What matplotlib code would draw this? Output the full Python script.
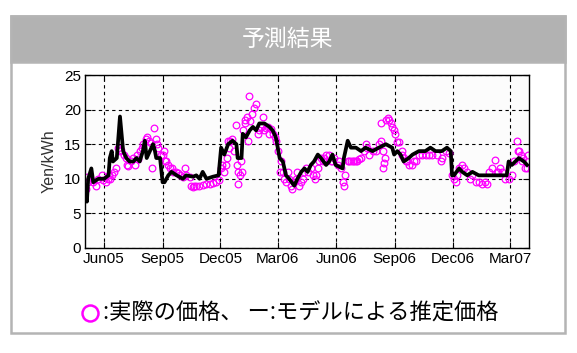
import numpy as np
import matplotlib
matplotlib.use("Agg")
import matplotlib.pyplot as plt
from matplotlib.patches import Rectangle
from matplotlib.lines import Line2D

plt.rcParams['font.family'] = ['Liberation Sans', 'DejaVu Sans']
JP = ['Noto Sans CJK JP', 'DejaVu Sans']

start = np.datetime64('2005-05-02')

# model estimate (days since 2005-05-02, Yen/kWh)
model_days = [0, 3, 5, 10, 13, 21, 30, 37, 39, 42, 44, 50, 55, 60, 65, 70, 76, 81, 86,
              91, 94, 97, 102, 107, 110, 112, 118, 122, 125, 131, 136, 144, 154, 159,
              170, 175, 180, 185, 191, 201, 210, 214, 219, 225, 232, 238, 240, 246,
              248, 253, 259, 264, 269, 274, 282, 290, 295, 300, 306, 311, 316, 321,
              329, 334, 340, 345, 350, 355, 360, 366, 371, 379, 384, 389, 394, 405,
              407, 413, 418, 426, 434, 441, 452, 462, 473, 483, 486, 491, 496, 501,
              509, 515, 525, 535, 543, 551, 561, 569, 575, 577, 580, 588, 593, 601,
              609, 619, 630, 645, 663, 666, 671, 682, 690, 695]
model_vals = [8.5, 6.7, 10, 11.5, 9.5, 10, 10, 10.5, 13, 14, 12.5, 13, 19, 14, 13, 12.5,
              12.5, 13, 12.5, 14, 15.5, 13, 14, 15, 14, 13, 13, 9.5, 9.5, 10.5, 11,
              10.5, 10, 10.5, 10.3, 10.5, 10, 11, 10, 10.3, 10.5, 14.5, 13.5, 15, 15.5,
              15, 13, 13, 16.5, 16, 17, 17.5, 17, 18, 18, 17.5, 17, 16, 13, 12.5, 10.5,
              10, 9, 10, 11, 11.5, 11, 12, 12.5, 13.5, 13, 12, 12.5, 13.5, 12, 11.5,
              13, 15.5, 14.5, 14.5, 14, 14.5, 14, 14.5, 15, 14.5, 13.5, 14, 13.5, 12.5,
              13, 13.5, 14, 14, 14.5, 14, 14, 14.5, 14, 10.5, 10.5, 11.5, 11, 10.5,
              11, 10.5, 10.5, 10.5, 10.5, 12.5, 12, 13, 12.5, 12]

# actual prices
actual_days = [1, 3, 5, 13, 17, 21, 26, 29, 33, 36, 38, 40, 43, 46, 49, 52, 55, 57, 61,
               64, 66, 68, 72, 75, 78, 81, 84, 86, 89, 91, 96, 98, 101, 103, 105, 109,
               111, 113, 115, 119, 123, 124, 126, 128, 131, 133, 136, 139, 143, 146,
               150, 154, 157, 159, 165, 167, 170, 172, 175, 180, 185, 191, 196, 201,
               206, 211, 214, 216, 218, 221, 223, 225, 226, 228, 231, 235, 237, 239,
               240, 241, 243, 246, 247, 249, 251, 252, 254, 256, 258, 260, 262, 265,
               269, 272, 274, 277, 280, 282, 285, 287, 290, 293, 295, 298, 300, 303,
               306, 308, 311, 313, 316, 319, 321, 324, 326, 329, 332, 334, 337, 340,
               342, 345, 348, 350, 355, 358, 361, 363, 366, 368, 371, 374, 376, 379,
               384, 387, 389, 392, 397, 400, 402, 406, 407, 409, 413, 415, 418, 421,
               423, 426, 428, 431, 434, 439, 442, 444, 447, 452, 457, 462, 465, 465,
               468, 469, 470, 472, 473, 476, 478, 481, 483, 486, 488, 491, 494, 498,
               499, 502, 504, 507, 510, 514, 517, 520, 525, 530, 536, 541, 546, 554,
               559, 562, 567, 572, 577, 580, 583, 585, 588, 592, 596, 601, 606, 609,
               614, 619, 624, 629, 632, 635, 640, 645, 648, 650, 653, 656, 661, 666,
               671, 674, 679, 680, 683, 686, 687, 689, 692, 695, 697]
actual_vals = [8.5, 10.3, 9.5, 9.5, 9, 10, 10.5, 9.8, 9.5, 10, 10.5, 10, 10.5, 11, 11.5,
               14.5, 14, 14.2, 13.5, 13, 12, 11.8, 12.5, 13, 12, 13.5, 12.8, 14, 14.5,
               15, 15.8, 16, 15.5, 15.2, 11.5, 17.3, 15.8, 15, 14.5, 13.5, 13.5, 14,
               12.5, 12.5, 12, 11.5, 11.5, 11, 11, 10.8, 10.5, 10.3, 11.5, 10.5, 10.3,
               9, 8.8, 9, 9, 9, 9.1, 9.2, 9.3, 9.4, 9.5, 9.8, 11.5, 12, 11, 12, 13,
               15.5, 14.5, 15.5, 15.8, 14, 17.8, 12, 11, 9.3, 10.5, 12.5, 11, 17, 18,
               18.5, 19, 15.5, 22, 18.3, 19.3, 20.3, 20.8, 16.5, 17, 17.5, 19, 17, 17.3,
               17.5, 16.5, 17.2, 16.5, 16, 15.5, 14, 11, 12.5, 11, 10, 9.5, 11, 10, 9,
               8.5, 9.5, 10, 11, 9, 9.5, 10, 11, 11.5, 11, 11.5, 10.5, 10, 10.5, 11.5,
               12.5, 13, 12.5, 13, 13.5, 13.5, 12.5, 12.5, 13, 12, 12.5, 11.5, 9.5, 9,
               10.5, 12.5, 12.5, 12.5, 12.5, 12.5, 12.5, 12.5, 12.8, 13, 14, 15, 14.5,
               13.5, 14, 14, 15, 15.5, 18, 14, 11.5, 12.3, 13, 18.5, 18.8, 18.5, 18,
               17.5, 17, 16.5, 15.3, 15.3, 14, 13.5, 13, 12.5, 12.5, 12, 12, 12.5, 12.5,
               13.5, 13.5, 13.5, 13.5, 13.5, 13.5, 12.5, 13, 14, 13.8, 10.5, 10, 9.5,
               10.5, 11.5, 12, 11.5, 11, 10, 10.5, 9.5, 9.5, 9.3, 9.5, 9.3, 11, 11.5,
               12.7, 11, 11, 11.5, 11, 10, 10, 10.5, 12.5, 15.5, 14, 14, 13.5, 12.5,
               13, 11.5, 11.5, 13.5]

tick_dates = ['2005-06-01', '2005-09-01', '2005-12-01', '2006-03-01',
              '2006-06-01', '2006-09-01', '2006-12-01', '2007-03-01']
tick_labels = ['Jun05', 'Sep05', 'Dec05', 'Mar06', 'Jun06', 'Sep06', 'Dec06', 'Mar07']

model_x = start + np.array(model_days).astype('timedelta64[D]')
actual_x = start + np.array(actual_days).astype('timedelta64[D]')

fig = plt.figure(figsize=(5.77, 3.53), dpi=100)

# outer frame and title band
fig.add_artist(Rectangle((0.019, 0.0567), 0.96, 0.898, transform=fig.transFigure,
                         facecolor='white', edgecolor='#b4b4b4', lw=1.8, zorder=0))
fig.add_artist(Rectangle((0.019, 0.8244), 0.96, 0.1303, transform=fig.transFigure,
                         facecolor='#b2b2b2', edgecolor='#b4b4b4', lw=1.8, zorder=0))
fig.text(0.499, 0.888, '予測結果', color='white', fontsize=16.5, family=JP,
         ha='center', va='center')

ax = fig.add_axes([0.1473, 0.2975, 0.7695, 0.49])
ax.set_facecolor('#fcfcfc')
ax.plot(actual_x, actual_vals, 'o', mfc='none', mec='#ff00ff', ms=4.8, mew=0.9, zorder=2)
ax.plot(model_x, model_vals, color='black', lw=2.7, zorder=3)

ax.set_xlim(np.datetime64('2005-05-02'), np.datetime64('2007-03-31'))
ax.set_ylim(0, 25)
ax.set_yticks([0, 5, 10, 15, 20, 25])
ax.set_xticks([np.datetime64(d) for d in tick_dates])
ax.set_xticklabels(tick_labels)
ax.tick_params(direction='in', length=4, labelsize=11, top=True, right=True, pad=3)
ax.grid(True, color='black', linestyle=(0, (3, 3)), lw=0.8)
for s in ax.spines.values():
    s.set_linewidth(1.0)
ax.set_ylabel('Yen/kWh', fontsize=11.5, color='#333333', labelpad=5)

# legend text
fig.add_artist(Line2D([0.156], [0.1133], marker='o', mfc='none', mec='#ff00ff',
                      ms=11.5, mew=1.8, transform=fig.transFigure))
fig.text(0.179, 0.1133, ':実際の価格、 ー:モデルによる推定価格', fontsize=16, family=JP,
         ha='left', va='center')

fig.savefig('out.png', dpi=100)
